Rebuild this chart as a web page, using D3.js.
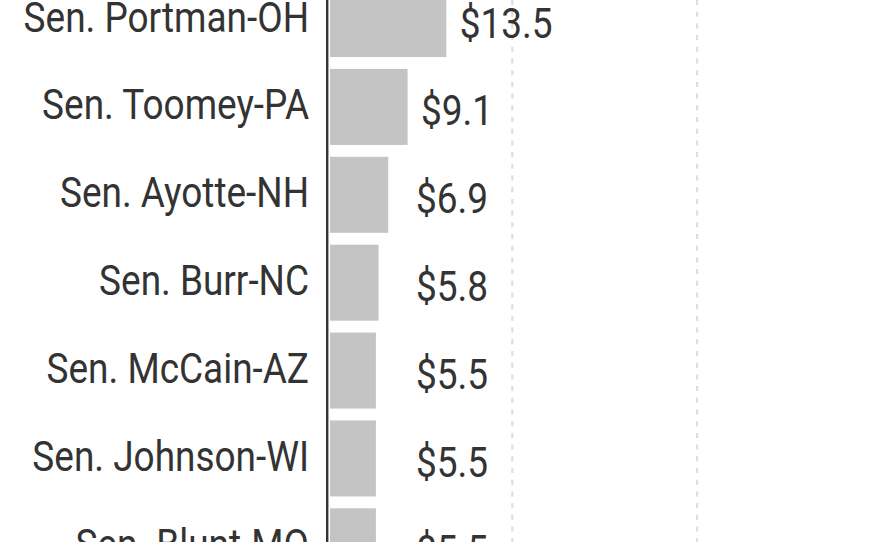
<!DOCTYPE html>
<html>
<head>
<meta charset="utf-8">
<script src="https://cdn.jsdelivr.net/npm/d3@7"></script>
<style>
  body { margin: 0; background: #fff; }
  svg { display: block; }
  text { font-family: Roboto, "Liberation Sans", sans-serif; fill: #333; }
</style>
</head>
<body>
<svg id="chart"></svg>
<script>
const senators = ["Sen. Portman-OH", "Sen. Toomey-PA", "Sen. Ayotte-NH", "Sen. Burr-NC",
    "Sen. McCain-AZ", "Sen. Johnson-WI", "Sen. Blunt-MO"];
const amounts = [13.5, 9.1, 6.9, 5.8, 5.5, 5.5, 5.5];
const gridValues = [21, 42];

const width = 880, height = 542;
const rows = senators.map((name, i) => ({ name: name, value: amounts[i] }));

const svg = d3.select("#chart")
    .attr("width", width)
    .attr("height", height);

const x = d3.scaleLinear()
    .domain([0, 50])
    .range([327.5, 767.5]);

const y = d3.scaleBand()
    .domain(senators)
    .range([-24.9, -24.9 + 87.88 * senators.length])
    .paddingInner(0.135)
    .paddingOuter(0.0675);

// dashed gridlines
svg.append("g")
    .selectAll("line")
    .data(gridValues)
    .enter().append("line")
    .attr("x1", d => x(d))
    .attr("x2", d => x(d))
    .attr("y1", 0)
    .attr("y2", height)
    .attr("stroke", "#dedede")
    .attr("stroke-width", 2.2)
    .attr("stroke-dasharray", "5,6.7");

svg.selectAll(".bar")
    .data(rows)
    .enter().append("rect")
    .attr("class", "bar")
    .attr("x", x(0) + 2.5)
    .attr("y", d => y(d.name))
    .attr("width", d => x(d.value) - x(0) - 2.5)
    .attr("height", y.bandwidth())
    .attr("fill", "#c4c4c4");

// axis line
svg.append("line")
    .attr("x1", x(0) - 0.3)
    .attr("x2", x(0) - 0.3)
    .attr("y1", 0)
    .attr("y2", height)
    .attr("stroke", "#333")
    .attr("stroke-width", 2.4);

const squeeze = 0.88;

svg.selectAll(".name")
    .data(rows)
    .enter().append("g")
    .attr("class", "name")
    .attr("transform", d => "translate(309," + (y(d.name) + y.bandwidth() / 2 + 12.5) + ")")
    .append("text")
    .attr("transform", "scale(" + squeeze + ",1)")
    .attr("text-anchor", "end")
    .style("font-size", "42px")
    .text(d => d.name);

svg.selectAll(".value")
    .data(rows)
    .enter().append("g")
    .attr("class", "value")
    .attr("transform", d => "translate(" + Math.max(x(d.value) + 13.5, 416) + "," + (y(d.name) + y.bandwidth() / 2 + 18.5) + ")")
    .append("text")
    .attr("transform", "scale(" + squeeze + ",1)")
    .style("font-size", "42px")
    .text(d => "$" + d.value.toFixed(1));
</script>
</body>
</html>
